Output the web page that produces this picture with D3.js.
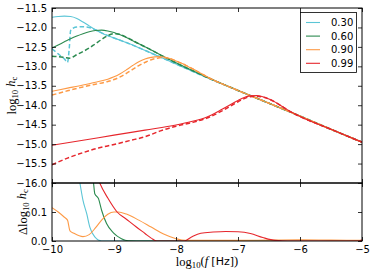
<!DOCTYPE html>
<html><head><meta charset="utf-8">
<script src="https://cdn.jsdelivr.net/npm/d3@7"></script>
<style>body{margin:0;background:#fff} svg{display:block}</style>
</head><body><svg id="c" width="374" height="274"></svg>
<script>
const seriesLabels = ["0.30", "0.60", "0.90", "0.99"];
const seriesColors = ["#5bc5d6", "#2b8a4f", "#fd9a46", "#e6262c"];
const xTicks = [-10, -9, -8, -7, -6, -5];
const yTopTicks = [-11.5, -12.0, -12.5, -13.0, -13.5, -14.0, -14.5, -15.0, -15.5, -16.0];
const yBotTicks = [0.0, 0.1];

// top panel: [log10 f, log10 hc]
const cyanSolid = [[-10,-11.74],[-9.9,-11.72],[-9.8,-11.71],[-9.7,-11.72],[-9.6,-11.77],[-9.5,-11.86],[-9.4,-11.96],[-9.3,-12.06],[-9.2,-12.14],[-9.1,-12.21],[-9.0,-12.27],[-8.9,-12.33],[-8.8,-12.39],[-8.6,-12.52],[-8.4,-12.66],[-8.2,-12.80],[-8.0,-12.94],[-7.5,-13.29],[-7.0,-13.62],[-6.5,-13.95],[-6.0,-14.28],[-5.5,-14.62],[-5.0,-14.95]];
const cyanDashed = [[-10,-12.55],[-9.9,-12.68],[-9.8,-12.81],[-9.75,-12.90],[-9.72,-12.50],[-9.70,-12.08],[-9.65,-12.01],[-9.6,-11.99],[-9.5,-11.98],[-9.4,-12.00],[-9.3,-12.06],[-9.2,-12.14],[-9.1,-12.21],[-9.0,-12.27],[-8.9,-12.33],[-8.8,-12.39],[-8.6,-12.52],[-8.4,-12.66],[-8.2,-12.80],[-8.0,-12.94],[-7.5,-13.29],[-7.0,-13.62],[-6.5,-13.95],[-6.0,-14.28],[-5.5,-14.62],[-5.0,-14.95]];
const greenSolid = [[-10,-12.53],[-9.9,-12.45],[-9.8,-12.37],[-9.7,-12.29],[-9.6,-12.22],[-9.5,-12.16],[-9.4,-12.11],[-9.3,-12.08],[-9.2,-12.07],[-9.1,-12.09],[-9.0,-12.13],[-8.9,-12.19],[-8.8,-12.26],[-8.6,-12.42],[-8.4,-12.58],[-8.2,-12.75],[-8.0,-12.91],[-7.5,-13.28],[-7.0,-13.62],[-6.5,-13.95],[-6.0,-14.28],[-5.5,-14.62],[-5.0,-14.95]];
const greenDashed = [[-10,-12.74],[-9.9,-12.75],[-9.8,-12.77],[-9.72,-12.79],[-9.6,-12.70],[-9.5,-12.62],[-9.4,-12.53],[-9.3,-12.42],[-9.2,-12.31],[-9.1,-12.21],[-9.0,-12.16],[-8.9,-12.18],[-8.8,-12.25],[-8.6,-12.42],[-8.4,-12.58],[-8.2,-12.75],[-8.0,-12.91],[-7.5,-13.28],[-7.0,-13.62],[-6.5,-13.95],[-6.0,-14.28],[-5.5,-14.62],[-5.0,-14.95]];
const orangeSolid = [[-10,-13.64],[-9.75,-13.56],[-9.5,-13.48],[-9.3,-13.41],[-9.1,-13.33],[-9.0,-13.27],[-8.9,-13.19],[-8.8,-13.09],[-8.7,-12.98],[-8.6,-12.88],[-8.5,-12.81],[-8.4,-12.77],[-8.3,-12.75],[-8.2,-12.76],[-8.1,-12.80],[-8.0,-12.86],[-7.9,-12.93],[-7.8,-13.01],[-7.7,-13.09],[-7.6,-13.18],[-7.5,-13.27],[-7.0,-13.62],[-6.5,-13.95],[-6.0,-14.28],[-5.5,-14.62],[-5.0,-14.95]];
const orangeDashed = [[-10,-13.74],[-9.75,-13.63],[-9.5,-13.53],[-9.3,-13.46],[-9.1,-13.39],[-9.0,-13.34],[-8.9,-13.27],[-8.8,-13.18],[-8.7,-13.08],[-8.6,-12.98],[-8.5,-12.90],[-8.4,-12.83],[-8.3,-12.79],[-8.2,-12.77],[-8.1,-12.80],[-8.0,-12.86],[-7.9,-12.93],[-7.8,-13.01],[-7.7,-13.09],[-7.6,-13.18],[-7.5,-13.27],[-7.0,-13.62],[-6.5,-13.95],[-6.0,-14.28],[-5.5,-14.62],[-5.0,-14.95]];
const redSolid = [[-10,-15.03],[-9.5,-14.90],[-9.0,-14.77],[-8.5,-14.64],[-8.0,-14.51],[-7.75,-14.42],[-7.5,-14.30],[-7.25,-14.10],[-7.0,-13.88],[-6.9,-13.80],[-6.8,-13.76],[-6.7,-13.75],[-6.6,-13.78],[-6.5,-13.84],[-6.4,-13.92],[-6.3,-14.02],[-6.2,-14.12],[-6.1,-14.21],[-6.0,-14.29],[-5.5,-14.62],[-5.0,-14.95]];
const redDashed = [[-10,-15.53],[-9.75,-15.36],[-9.5,-15.22],[-9.25,-15.10],[-9.0,-15.01],[-8.75,-14.91],[-8.5,-14.81],[-8.25,-14.66],[-8.0,-14.54],[-7.75,-14.45],[-7.5,-14.33],[-7.25,-14.14],[-7.0,-13.91],[-6.9,-13.83],[-6.8,-13.78],[-6.7,-13.77],[-6.6,-13.79],[-6.5,-13.84],[-6.4,-13.92],[-6.3,-14.02],[-6.2,-14.12],[-6.1,-14.21],[-6.0,-14.29],[-5.5,-14.62],[-5.0,-14.95]];

// bottom panel: [log10 f, delta log10 hc]
const cyanDelta = [[-10,0.9],[-9.7,0.45],[-9.6,0.26],[-9.55,0.2],[-9.5,0.14],[-9.44,0.094],[-9.39,0.048],[-9.31,0.014],[-9.2,0.0],[-8.0,0.0],[-7.0,0.0],[-6.3,0.0]];
const greenDelta = [[-10,0.185],[-9.97,0.3],[-9.9,0.45],[-9.5,0.5],[-9.4,0.3],[-9.33,0.2],[-9.31,0.163],[-9.25,0.146],[-9.2,0.106],[-9.12,0.06],[-9.01,0.028],[-8.88,0.008],[-8.77,0.001],[-8.5,0.0],[-7.0,0.0],[-6.3,0.0]];
const orangeDelta = [[-10,0.115],[-9.9,0.1],[-9.8,0.082],[-9.75,0.072],[-9.71,0.035],[-9.65,0.027],[-9.5,0.015],[-9.4,0.022],[-9.3,0.045],[-9.2,0.072],[-9.1,0.092],[-9.0,0.1],[-8.93,0.1],[-8.8,0.093],[-8.6,0.072],[-8.4,0.048],[-8.2,0.024],[-8.0,0.008],[-7.85,0.002],[-7.0,0.002],[-6.5,0.003],[-6.0,0.004],[-5.5,0.003],[-5.0,0.002]];
const redDelta = [[-9.5,0.4],[-9.23,0.2],[-9.1,0.148],[-8.95,0.1],[-8.8,0.075],[-8.65,0.05],[-8.5,0.026],[-8.4,0.01],[-8.31,0.0],[-7.87,0.0],[-7.75,0.014],[-7.6,0.027],[-7.4,0.031],[-7.2,0.033],[-7.0,0.032],[-6.8,0.026],[-6.6,0.012],[-6.4,0.002],[-6.2,0.0],[-5.5,0.0],[-5.05,0.0],[-5.0,0.003]];

const topSolid = [cyanSolid, greenSolid, orangeSolid, redSolid];
const topDashed = [cyanDashed, greenDashed, orangeDashed, redDashed];
const botDelta = [cyanDelta, greenDelta, orangeDelta, redDelta];

const svg = d3.select("#c");
const L = 52, R = 362, T1 = 8, B1 = 183, B2 = 241;
const x = d3.scaleLinear([-10, -5], [L, R]);
const yT = d3.scaleLinear([-16, -11.5], [B1, T1]);
const yB = d3.scaleLinear([0, 0.2], [B2, B1]);

const defs = svg.append("defs");
defs.append("clipPath").attr("id", "ct").append("rect").attr("x", L).attr("y", T1).attr("width", R - L).attr("height", B1 - T1);
defs.append("clipPath").attr("id", "cb").append("rect").attr("x", L).attr("y", B1).attr("width", R - L).attr("height", B2 - B1);

const lineT = d3.line().x(d => x(d[0])).y(d => yT(d[1])).curve(d3.curveMonotoneX);
const lineB = d3.line().x(d => x(d[0])).y(d => yB(d[1])).curve(d3.curveMonotoneX);

const gT = svg.append("g").attr("clip-path", "url(#ct)");
seriesLabels.forEach((s, i) => {
  gT.append("path").attr("d", lineT(topDashed[i])).attr("fill", "none")
    .attr("stroke", seriesColors[i]).attr("stroke-width", 1.5).attr("stroke-dasharray", "4.5,2.5");
  gT.append("path").attr("d", lineT(topSolid[i])).attr("fill", "none")
    .attr("stroke", seriesColors[i]).attr("stroke-width", 1.1);
});
const gB = svg.append("g").attr("clip-path", "url(#cb)");
seriesLabels.forEach((s, i) => {
  gB.append("path").attr("d", lineB(botDelta[i])).attr("fill", "none")
    .attr("stroke", seriesColors[i]).attr("stroke-width", 1.1);
});

const fmt = d3.format(".1f");
const tickFont = "DejaVu Sans, sans-serif";
function styleAxis(g) {
  g.selectAll(".domain").remove();
  g.selectAll("line").attr("stroke", "#000").attr("stroke-width", 0.8);
  g.selectAll("text").attr("font-family", tickFont).attr("font-size", 10).attr("fill", "#000");
}
// top panel axes
svg.append("g").attr("transform", `translate(${L},0)`).call(d3.axisLeft(yT).tickValues(yTopTicks).tickFormat(fmt).tickSize(-4).tickPadding(5)).call(styleAxis);
svg.append("g").attr("transform", `translate(${R},0)`).call(d3.axisRight(yT).tickValues(yTopTicks).tickFormat("").tickSize(-4)).call(styleAxis);
svg.append("g").attr("transform", `translate(0,${T1})`).call(d3.axisTop(x).tickValues(xTicks).tickFormat("").tickSize(-4)).call(styleAxis);
svg.append("g").attr("transform", `translate(0,${B1})`).call(d3.axisBottom(x).tickValues(xTicks).tickFormat("").tickSize(-4)).call(styleAxis);
// bottom panel axes
svg.append("g").attr("transform", `translate(${L},0)`).call(d3.axisLeft(yB).tickValues(yBotTicks).tickFormat(fmt).tickSize(-4).tickPadding(5)).call(styleAxis);
svg.append("g").attr("transform", `translate(${R},0)`).call(d3.axisRight(yB).tickValues(yBotTicks).tickFormat("").tickSize(-4)).call(styleAxis);
svg.append("g").attr("transform", `translate(0,${B1})`).call(d3.axisTop(x).tickValues(xTicks).tickFormat("").tickSize(-4)).call(styleAxis);
svg.append("g").attr("transform", `translate(0,${B2})`).call(d3.axisBottom(x).tickValues(xTicks).tickFormat(d => d3.format("d")(d)).tickSize(-4).tickPadding(5)).call(styleAxis);

// frames
svg.append("rect").attr("x", L).attr("y", T1).attr("width", R - L).attr("height", B1 - T1).attr("fill", "none").attr("stroke", "#000").attr("stroke-width", 1);
svg.append("rect").attr("x", L).attr("y", B1).attr("width", R - L).attr("height", B2 - B1).attr("fill", "none").attr("stroke", "#000").attr("stroke-width", 1);

// axis labels
const serif = "Liberation Serif, DejaVu Serif, serif";
function mathLabel(t, delta) {
  if (delta) t.append("tspan").text("Δ");
  t.append("tspan").text("log");
  t.append("tspan").attr("font-size", "0.7em").attr("dy", "0.25em").text("10");
  t.append("tspan").attr("dy", "-0.25em").attr("font-style", "italic").text(" h");
  t.append("tspan").attr("font-size", "0.7em").attr("dy", "0.25em").text("c");
}
const ly1 = svg.append("text").attr("transform", `translate(16,${(T1 + B1) / 2}) rotate(-90)`)
  .attr("text-anchor", "middle").attr("font-family", serif).attr("font-size", 12.5);
mathLabel(ly1, false);
const ly2 = svg.append("text").attr("transform", `translate(27,${(B1 + B2) / 2}) rotate(-90)`)
  .attr("text-anchor", "middle").attr("font-family", serif).attr("font-size", 12.5);
mathLabel(ly2, true);

const lx = svg.append("text").attr("x", (L + R) / 2).attr("y", 266).attr("text-anchor", "middle")
  .attr("font-family", serif).attr("font-size", 12.5);
lx.append("tspan").text("log");
lx.append("tspan").attr("font-size", "0.7em").attr("dy", "0.25em").text("10");
lx.append("tspan").attr("dy", "-0.25em").text("(");
lx.append("tspan").attr("font-style", "italic").text("f ");
lx.append("tspan").attr("font-family", tickFont).attr("font-size", 11).text("[Hz]");
lx.append("tspan").text(")");

// legend
const lg = svg.append("g");
lg.append("rect").attr("x", 300.5).attr("y", 12.5).attr("width", 56).attr("height", 60)
  .attr("fill", "#fff").attr("stroke", "#000").attr("stroke-width", 0.8);
seriesLabels.forEach((s, i) => {
  const yy = 22.5 + i * 13.6;
  lg.append("line").attr("x1", 306).attr("x2", 320).attr("y1", yy).attr("y2", yy)
    .attr("stroke", seriesColors[i]).attr("stroke-width", 1.1);
  lg.append("text").attr("x", 331).attr("y", yy + 3.6).attr("font-family", tickFont)
    .attr("font-size", 10).text(s);
});
</script></body></html>
